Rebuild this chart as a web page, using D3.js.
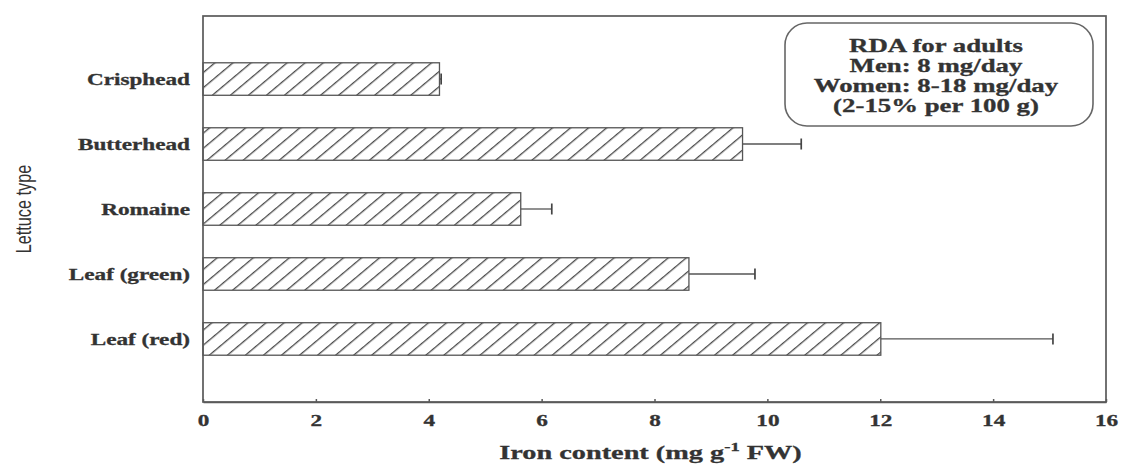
<!DOCTYPE html>
<html>
<head>
<meta charset="utf-8">
<script src="https://cdn.jsdelivr.net/npm/d3@7"></script>
<style>
  html, body { margin: 0; padding: 0; background: #fff; }
  svg { display: block; }
</style>
</head>
<body>
<svg id="chart" width="1121" height="466"></svg>
<script>
// ---- data ----
const categories = ["Crisphead", "Butterhead", "Romaine", "Leaf (green)", "Leaf (red)"];
const ironMeans  = [4.19, 9.56, 5.63, 8.61, 12.01];
const ironErrors = [0.03, 1.04, 0.55, 1.17, 3.05];
const xTicks     = [0, 2, 4, 6, 8, 10, 12, 14, 16];
const rdaLines   = ["RDA for adults", "Men: 8 mg/day", "Women: 8-18 mg/day", "(2-15% per 100 g)"];

(function () {
const svg = d3.select("#chart");
const pL = 203, pR = 1106, pT = 16, pB = 402;
const ink = "#333", frameCol = "#5a5a5a";
const serif = "'Liberation Serif', 'Times New Roman', serif";
const SX = 1.45;

const x = d3.scaleLinear().domain([0, 16]).range([pL, pR]);
const y = d3.scaleBand().domain(categories).range([pT, pB]).paddingInner(0.5).paddingOuter(0.72);

// hatch pattern
const hs = 11.6;
const defs = svg.append("defs");
const pat = defs.append("pattern")
  .attr("id", "hatch").attr("patternUnits", "userSpaceOnUse")
  .attr("width", hs).attr("height", hs)
  .attr("patternTransform", "rotate(-40)");
pat.append("rect").attr("width", hs).attr("height", hs).attr("fill", "#fff");
pat.append("line").attr("x1", 0).attr("y1", 0).attr("x2", hs).attr("y2", 0)
  .attr("stroke", "#4a4a4a").attr("stroke-width", 2.6);

// bars
const rows = svg.append("g").selectAll("g").data(categories).join("g");
rows.append("rect")
  .attr("x", x(0))
  .attr("y", d => y(d))
  .attr("width", (d, i) => x(ironMeans[i]) - x(0))
  .attr("height", y.bandwidth())
  .attr("fill", "url(#hatch)")
  .attr("stroke", "#555").attr("stroke-width", 1.3);

// error bars
rows.append("line")
  .attr("x1", (d, i) => x(ironMeans[i]))
  .attr("x2", (d, i) => x(ironMeans[i] + ironErrors[i]))
  .attr("y1", d => y(d) + y.bandwidth() / 2)
  .attr("y2", d => y(d) + y.bandwidth() / 2)
  .attr("stroke", "#555").attr("stroke-width", 1.3);
rows.append("line")
  .attr("x1", (d, i) => x(ironMeans[i] + ironErrors[i]))
  .attr("x2", (d, i) => x(ironMeans[i] + ironErrors[i]))
  .attr("y1", d => y(d) + y.bandwidth() / 2 - 5.5)
  .attr("y2", d => y(d) + y.bandwidth() / 2 + 5.5)
  .attr("stroke", "#444").attr("stroke-width", 1.7);

// frame
svg.append("rect").attr("x", pL).attr("y", pT)
  .attr("width", pR - pL).attr("height", pB - pT)
  .attr("fill", "none").attr("stroke", frameCol).attr("stroke-width", 1.7);

// x axis
const xAxis = svg.append("g").attr("transform", `translate(0,${pB})`)
  .call(d3.axisBottom(x).tickValues(xTicks).tickSizeInner(-3).tickSizeOuter(0).tickFormat(d3.format("d")));
xAxis.select(".domain").attr("stroke", frameCol).attr("stroke-width", 1.7);
xAxis.selectAll(".tick line").attr("stroke", frameCol).attr("stroke-width", 1.5);
xAxis.selectAll(".tick text")
  .attr("y", 0).attr("dy", 0)
  .attr("transform", `translate(0,24) scale(${SX},1)`)
  .attr("fill", ink).attr("stroke", ink).attr("stroke-width", 0.3)
  .attr("font-family", serif).attr("font-weight", "bold").attr("font-size", 16);

// y axis labels
const yAxis = svg.append("g").attr("transform", `translate(${pL},0)`)
  .call(d3.axisLeft(y).tickSize(0).tickPadding(0));
yAxis.select(".domain").remove();
yAxis.selectAll(".tick text")
  .attr("x", 0).attr("dy", 0)
  .attr("transform", `translate(-13,6) scale(${SX},1)`)
  .attr("text-anchor", "end")
  .attr("fill", ink).attr("stroke", ink).attr("stroke-width", 0.3)
  .attr("font-family", serif).attr("font-weight", "bold").attr("font-size", 16);

// axis titles
const xt = svg.append("text")
  .attr("transform", `translate(${(pL + pR) / 2 - 4},459) scale(1.49,1)`)
  .attr("text-anchor", "middle")
  .attr("fill", ink).attr("stroke", ink).attr("stroke-width", 0.3)
  .attr("font-family", serif).attr("font-weight", "bold").attr("font-size", 19);
xt.append("tspan").text("Iron content (mg g");
xt.append("tspan").attr("dy", -8).attr("font-size", 12.5).text("-1");
xt.append("tspan").attr("dy", 8).text(" FW)");

svg.append("text")
  .attr("transform", "translate(31,209) rotate(-90) scale(0.74,1)")
  .attr("text-anchor", "middle")
  .attr("fill", ink).attr("font-family", "'Liberation Sans', Arial, sans-serif").attr("font-size", 22)
  .text("Lettuce type");

// RDA box
svg.append("rect").attr("x", 785).attr("y", 23).attr("width", 308).attr("height", 103)
  .attr("rx", 22).attr("ry", 22)
  .attr("fill", "#fff").attr("stroke", "#666").attr("stroke-width", 1.6);
svg.append("g").selectAll("text").data(rdaLines).join("text")
  .attr("transform", (d, i) => `translate(936,${52 + i * 20}) scale(1.45,1)`)
  .attr("text-anchor", "middle")
  .attr("fill", ink).attr("stroke", ink).attr("stroke-width", 0.3)
  .attr("font-family", serif).attr("font-weight", "bold").attr("font-size", 18.5)
  .text(d => d);
})();
</script>
</body>
</html>
